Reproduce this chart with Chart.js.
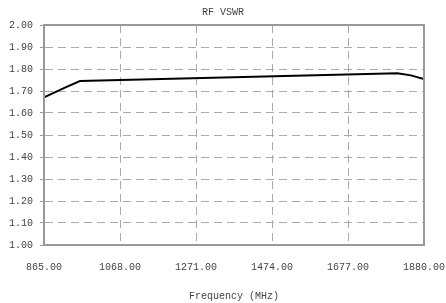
<!DOCTYPE html>
<html>
<head>
<meta charset="utf-8">
<script src="https://cdn.jsdelivr.net/npm/chart.js@4"></script>
<style>
  body { margin: 0; background: #fff; }
  canvas { display: block; }
</style>
</head>
<body>
<canvas id="chart" width="446" height="303"></canvas>
<script>
// data
const frequencies = [865, 921, 961, 1809, 1845, 1880];
const vswr = [1.671, 1.715, 1.745, 1.781, 1.771, 1.754];
const xTicks = [865, 1068, 1271, 1474, 1677, 1880];
const yTicks = [1.0, 1.1, 1.2, 1.3, 1.4, 1.5, 1.6, 1.7, 1.8, 1.9, 2.0];

const font = { family: '"Liberation Mono", monospace', size: 10 };
const textColor = '#444';
const gridColor = '#aaa';

// box around the plot area (top and right sides too)
const frameBox = {
    id: 'frameBox',
    afterDraw(chart) {
        const { ctx, chartArea: a } = chart;
        ctx.save();
        ctx.strokeStyle = '#999';
        ctx.lineWidth = 2;
        ctx.setLineDash([]);
        ctx.strokeRect(a.left, a.top, a.right - a.left, a.bottom - a.top);
        ctx.restore();
    }
};

new Chart(document.getElementById('chart').getContext('2d'), {
    type: 'line',
    data: {
        datasets: [{
            data: frequencies.map((f, i) => ({ x: f, y: vswr[i] })),
            borderColor: '#000',
            borderWidth: 2,
            pointRadius: 0,
            tension: 0,
            fill: false
        }]
    },
    options: {
        responsive: false,
        animation: false,
        layout: { padding: 0 },
        plugins: {
            legend: { display: false },
            tooltip: { enabled: false },
            title: {
                display: true,
                text: 'RF VSWR',
                color: textColor,
                font: { ...font, weight: 'normal' },
                padding: { top: 6, bottom: 7 }
            }
        },
        scales: {
            x: {
                type: 'linear',
                min: xTicks[0],
                max: xTicks[xTicks.length - 1],
                afterBuildTicks: scale => { scale.ticks = xTicks.map(v => ({ value: v })); },
                afterFit: scale => {
                    scale.height = 58;
                    scale.paddingLeft = 0;
                    scale.paddingRight = 22;
                },
                ticks: {
                    color: textColor,
                    font: font,
                    padding: 16,
                    maxRotation: 0,
                    callback: v => v.toFixed(2)
                },
                grid: {
                    color: gridColor,
                    drawTicks: false
                },
                border: { color: '#999', width: 2, dash: [8, 5] },
                title: {
                    display: true,
                    text: 'Frequency (MHz)',
                    color: textColor,
                    font: font,
                    padding: { top: 0, bottom: 1 }
                }
            },
            y: {
                min: 1,
                max: 2,
                afterBuildTicks: scale => { scale.ticks = yTicks.map(v => ({ value: v })); },
                afterFit: scale => {
                    scale.width = 44;
                    scale.paddingTop = 0;
                    scale.paddingBottom = 0;
                },
                ticks: {
                    color: textColor,
                    font: font,
                    padding: 7,
                    callback: v => v.toFixed(2)
                },
                grid: {
                    color: gridColor,
                    tickLength: 4,
                    tickColor: '#999',
                    tickBorderDash: []
                },
                border: { color: '#999', width: 2, dash: [8, 5] }
            }
        }
    },
    plugins: [frameBox]
});
</script>
</body>
</html>
